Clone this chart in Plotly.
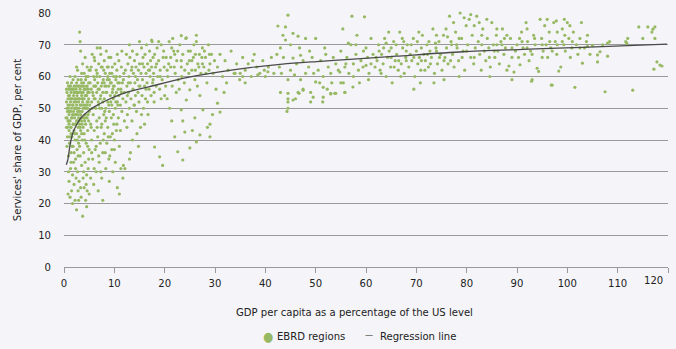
import plotly.graph_objects as go

# ---- Data (x = GDP per capita % of US, y = services share %) ----
band_0_5 = [(0.4,47),(0.5,52),(0.5,44),(0.6,55),(0.6,38),(0.7,49),(0.7,41),(0.8,53),(0.8,46),(0.8,23),(0.9,57),(0.9,50),(0.9,35),(1.0,48),(1.0,43),(1.0,27),(1.1,54),(1.1,51),(1.1,39),(1.2,56),(1.2,46),(1.2,22),(1.3,52),(1.3,49),(1.3,31),(1.4,55),(1.4,44),(1.4,36),(1.5,58),(1.5,50),(1.5,47),(1.5,24),(1.6,53),(1.6,41),(1.7,56),(1.7,48),(1.7,29),(1.8,51),(1.8,45),(1.8,38),(1.9,54),(1.9,49),(1.9,33),(2.0,57),(2.0,52),(2.0,43),(2.0,26),(2.1,55),(2.1,47),(2.2,60),(2.2,50),(2.2,40),(2.2,21),(2.3,53),(2.3,45),(2.3,34),(2.4,56),(2.4,48),(2.4,28),(2.5,58),(2.5,51),(2.5,42),(2.5,18),(2.6,54),(2.6,46),(2.6,37),(2.7,62),(2.7,49),(2.7,30),(2.8,55),(2.8,44),(2.8,24),(2.9,52),(2.9,47),(2.9,39),(3.0,57),(3.0,50),(3.0,41),(3.0,27),(3.1,74),(3.1,53),(3.1,45),(3.2,71),(3.2,56),(3.2,35),(3.3,68),(3.3,48),(3.3,43),(3.4,59),(3.4,51),(3.4,22),(3.5,54),(3.5,46),(3.5,32),(3.6,57),(3.6,49),(3.6,40),(3.7,64),(3.7,52),(3.7,16),(3.8,55),(3.8,44),(3.8,28),(3.9,58),(3.9,47),(3.9,36),(4.0,61),(4.0,53),(4.0,42),(4.0,25),(4.1,56),(4.1,50),(4.2,66),(4.2,48),(4.2,33),(4.3,59),(4.3,45),(4.3,21),(4.4,54),(4.4,39),(4.5,57),(4.5,51),(4.5,29),(4.6,63),(4.6,47),(4.6,24),(4.7,55),(4.7,43),(4.8,60),(4.8,52),(4.8,31),(4.9,58),(4.9,46),(5.0,62),(5.0,49),(5.0,37),(5.0,23),
    (0.6,50),(0.9,46),(1.2,53),(1.6,47),(1.9,56),(2.3,50),(2.6,57),(3.0,46),(3.4,55),(3.8,50),(4.2,54),(4.6,52),(1.1,57),(2.1,53),(2.9,55),(3.6,53),(4.4,50),(0.7,58),(1.4,42),(2.4,45),(3.2,44),(4.0,47),(4.8,56),(1.0,56),(1.8,59),(2.8,59),(3.9,57),
    (0.5,56),(0.6,47),(0.8,51),(0.9,54),(1.0,45),(1.1,49),(1.3,57),(1.3,44),(1.5,53),(1.6,56),(1.7,51),(1.8,48),(1.9,45),(2.0,55),(2.1,50),(2.2,57),(2.3,48),(2.4,52),(2.5,55),(2.5,46),(2.6,50),(2.7,53),(2.8,48),(2.9,57),(3.0,53),(3.1,49),(3.2,51),(3.3,57),(3.4,47),(3.5,58),(3.6,45),(3.7,55),(3.8,53),(3.9,51),(4.0,56),(4.1,46),(4.2,51),(4.3,56),(4.4,47),(4.5,54),(4.6,57),(4.7,50),(4.8,48),(4.9,53),(5.0,55),(0.7,44),(1.2,41),(1.6,38),(2.1,42),(2.6,40),(3.1,38),(3.5,42),(4.1,40),(4.7,38),(0.9,30),(1.4,33),(2.3,31),(2.8,35),(3.3,25),(3.9,30),(4.4,26),(4.9,34),(1.7,20),(2.9,21),(4.5,19),(2.0,36),(1.2,60),(2.5,63),(3.5,61),(4.4,60)]

band_5_12 = [(5.2,58),(5.3,45),(5.3,28),(5.4,63),(5.5,52),(5.5,40),(5.6,67),(5.7,55),(5.7,34),(5.8,48),(5.9,60),(5.9,26),(6.0,53),(6.0,43),(6.1,65),(6.2,57),(6.2,37),(6.3,50),(6.4,62),(6.4,30),(6.5,55),(6.5,46),(6.6,69),(6.7,58),(6.7,41),(6.8,52),(6.8,24),(6.9,64),(7.0,56),(7.0,47),(7.0,33),(7.1,60),(7.2,53),(7.2,39),(7.3,67),(7.4,57),(7.4,44),(7.5,50),(7.5,28),(7.6,63),(7.7,55),(7.7,36),(7.7,21),(7.8,59),(7.9,48),(8.0,65),(8.0,53),(8.0,42),(8.1,57),(8.2,61),(8.2,46),(8.3,50),(8.3,31),(8.4,68),(8.5,55),(8.5,39),(8.6,59),(8.7,52),(8.7,44),(8.8,63),(8.9,57),(8.9,34),(9.0,49),(9.0,27),(9.1,61),(9.2,54),(9.2,41),(9.3,66),(9.4,58),(9.4,47),(9.5,51),(9.5,37),(9.6,63),(9.7,56),(9.7,30),(9.8,53),(9.9,60),(9.9,45),(10.0,57),(10.0,40),(10.1,64),(10.2,50),(10.2,33),(10.3,59),(10.4,55),(10.4,43),(10.5,62),(10.6,52),(10.6,25),(10.7,58),(10.8,47),(10.9,65),(10.9,54),(11.0,38),(11.0,23),(11.1,60),(11.2,51),(11.3,56),(11.3,31),(11.4,63),(11.5,49),(11.6,58),(11.7,53),(11.8,32),(11.9,61),(12.0,55),(12.0,46),
    (5.4,56),(6.1,59),(6.6,61),(7.3,54),(7.9,62),(8.4,57),(9.0,59),(9.6,55),(5.8,54),(6.9,51),(7.6,58),(8.7,60),(10.3,52),(5.1,51),(6.3,57),(8.1,49),(9.3,52),(10.8,56),
    (5.2,62),(5.6,50),(5.9,57),(6.2,53),(6.5,60),(6.8,56),(7.1,50),(7.4,63),(7.7,52),(8.0,58),(8.3,55),(8.6,63),(8.9,51),(9.2,58),(9.5,61),(9.8,57),(10.1,54),(10.4,60),(10.7,51),(11.0,58),(11.4,55),(11.8,59),(5.5,36),(6.0,31),(6.4,38),(6.9,35),(7.3,30),(7.8,40),(8.2,36),(8.8,41),(9.1,35),(9.6,42),(10.0,37),(10.5,45),(11.2,43),(5.4,44),(6.6,44),(7.5,45),(8.4,47),(9.8,48),(6.0,66),(7.2,69),(8.9,66),(10.6,67),(11.5,68)]

band_12_20 = [(12.2,62),(12.3,52),(12.4,67),(12.5,57),(12.6,48),(12.7,64),(12.8,55),(12.9,60),(13.0,50),(13.0,34),(13.1,66),(13.2,58),(13.3,53),(13.4,62),(13.5,46),(13.6,68),(13.7,56),(13.8,61),(13.9,51),(14.0,65),(14.1,58),(14.2,54),(14.3,63),(14.4,49),(14.5,67),(14.6,59),(14.7,55),(14.8,62),(14.9,52),(15.0,64),(15.1,57),(15.2,44),(15.3,61),(15.4,69),(15.5,54),(15.6,59),(15.7,66),(15.8,50),(15.9,63),(16.0,57),(16.1,67),(16.2,53),(16.3,61),(16.4,70),(16.5,58),(16.6,64),(16.7,48),(16.8,62),(16.9,56),(17.0,68),(17.1,60),(17.2,65),(17.3,54),(17.4,63),(17.5,71),(17.6,58),(17.7,66),(17.8,61),(17.9,52),(18.0,67),(18.2,63),(18.3,57),(18.5,69),(18.6,60),(18.8,65),(19.0,56),(19.1,62),(19.3,70),(19.5,59),(19.7,66),(19.9,63),(20.0,54),(12.5,44),(13.6,40),(14.8,38),(12.1,31),(13.2,36),(11.7,28),(17.4,71.5),
    (12.8,58),(13.5,63),(14.2,60),(14.9,57),(15.6,64),(16.3,56),(17.0,62),(17.7,59),(18.4,64),(19.1,60),(19.8,68),(13.0,70),(15.0,71),(18.8,71),(12.6,54),(14.0,51),(15.4,48),(16.6,52),(17.9,55),(19.3,53),(14.5,42),(16.0,45)]

band_20_30 = [(20.3,66),(20.6,60),(20.9,71),(21.2,63),(21.5,57),(21.8,68),(22.1,61),(22.4,65),(22.7,59),(23.0,70),(23.3,63),(23.6,67),(23.9,58),(24.2,72),(24.5,64),(24.8,61),(25.1,68),(25.4,62),(25.7,66),(26.0,59),(26.3,71),(26.6,64),(26.9,67),(27.2,61),(27.5,69),(27.8,63),(28.1,66),(28.4,58),(28.7,70),(29.0,64),(29.3,67),(29.6,61),(29.9,65),(20.8,64),(22.0,67),(23.4,60),(24.9,65),(26.1,62),(27.4,66),(28.8,62),(21.4,69),(25.8,70),(27.9,68),(22.9,56),(21.6,72),(23.3,72.9),(24.3,72.2),(26.3,73),
    (20.5,62),(21.2,66),(21.9,63),(22.6,68),(23.3,65),(24.0,62),(24.7,68),(25.4,65),(26.1,67),(26.8,63),(27.5,64),(28.2,61),(28.9,67),(20.2,57),(22.3,55),(26.5,57),
    (21.4,46),(23.6,46),(24.0,42.5),(25.5,43),(27.0,41.6),(29.0,41),(18.0,37.8),(19.0,34.7),(22.6,36.3),(23.6,33.7),(25.0,37.5),(26.3,39.4),(19.6,32),(24.3,52.6),(23.3,49.5),(30.5,51.6),(31.0,48.8),(29.5,48),(27.6,49.5),(27.0,54),(25.0,55.8),(29.0,45),(21.0,50),(28.5,44),(26.0,47),(22.0,41),(20.5,53)]

band_30_50 = [(30.5,63),(31.0,67),(31.5,60),(32.0,65),(32.6,62),(33.2,68),(33.8,61),(34.3,64),(34.9,59),(35.5,66),(36.0,62),(36.6,64),(37.2,60),(37.8,67),(38.3,63),(38.9,61),(39.5,65),(40.0,60),(40.6,63),(41.2,66),(41.7,61),(32.3,58),(35.0,61),(37.5,65),(39.8,62),(30.2,56),(31.8,55),
    (42.5,75.9),(44.0,75.6),(43.5,73),(44.0,71.5),(43.0,69),(45.0,70),(45.5,73.6),(44.5,79.3),(46.5,72.7),(48.0,72),(50.0,72),(47.0,66.7),(45.5,65.8),(47.5,65),(43.0,55),(44.5,53),(44.5,50),(46.0,53),(47.5,55.7),(46.7,54.7),(49.0,55),(49.5,53.5),(44.5,54.7),(46.5,55),(47.5,56),(44.3,49),(44.5,52),(45.5,52.6),(49.0,52),(50.0,58.3),(35.5,60),(34.0,61),(36.0,58),(44.5,59),(47.0,59),(48.0,61),(42.8,63),(43.6,66),(45.0,62),(46.2,64),(48.6,63),(49.3,66),(42.3,67),(46.8,69),(48.8,68),(43.2,61),(45.8,60.5),(49.6,61),(38.5,60.5),(40.5,61.5)]

band_50_62 = [(50.5,62),(51.0,65),(51.5,60),(52.0,67),(52.5,63),(53.0,61),(53.5,66),(54.0,64),(54.5,62),(55.0,68),(55.4,75),(55.8,63),(56.2,66),(56.6,61),(57.0,70),(57.2,79),(57.5,64),(58.0,67),(58.5,62),(59.0,65),(59.4,63),(59.7,78.8),(60.0,69),(60.3,66),(60.6,61),(61.0,64),(61.4,67),(61.8,63),(50.8,58),(53.2,58),(54.8,61.4),(55.5,58),(55.8,55),(57.4,56.7),(58.7,58),(60.5,59),(53.8,54.7),(52.3,56),(56.5,70.5),(58.2,73),(61.0,72),(51.8,69),
    (51.5,56.6),(51.5,53.5),(53.0,54.7),(55.0,58),(51.4,52),(53.0,54.5),(54.0,54.7),(55.8,55),(56.0,64),(58.0,70),(60.0,63.5),(57.5,60),(59.5,68)]

band_62_80 = [(62.2,65),(62.5,70),(62.8,62),(63.1,67),(63.4,64),(63.7,72),(64.0,60),(64.3,66),(64.6,68),(64.9,63),(65.2,58),(65.5,71),(65.8,65),(66.1,67),(66.4,62),(66.7,74),(67.0,64),(67.3,69),(67.6,61),(67.9,66),(68.2,70),(68.5,63),(68.8,67),(69.1,65),(69.4,72),(69.7,60),(70.0,68),(70.3,64),(70.6,66),(70.9,62),(71.2,73),(71.5,67),(71.8,65),(72.1,70),(72.4,63),(72.7,68),(73.0,66),(73.3,75),(73.6,61),(73.9,69),(74.2,64),(74.5,71),(74.8,67),(75.1,62),(75.4,73),(75.7,66),(76.0,69),(76.3,64),(76.6,79),(76.9,71),(77.2,67),(77.5,63),(77.8,74),(78.1,69),(78.4,65),(78.7,80),(79.0,72),(79.3,68),(79.6,62),(79.9,76),
    (63.0,61),(65.0,69),(67.2,72),(69.0,70),(71.0,69),(72.8,64),(74.6,66),(76.8,65),(78.0,70),(64.5,74),(66.0,70),(68.0,65),(70.2,71),(72.2,67),(74.0,73),(75.9,75),(77.4,77),(79.1,66),(62.6,68),(66.9,60),(70.8,58),(73.5,58),(75.5,59),(78.5,60),(69.5,56),(71.7,62),(65.6,63),
    (62.0,66),(63.5,69),(65.0,66),(66.5,65),(68.0,68),(69.5,66),(71.0,65),(72.5,71),(74.0,68),(75.5,65),(77.0,70),(78.5,72),(64.0,70.5),(67.5,71),(70.5,74),(73.8,70.5),(76.2,72.5),(79.5,78.5)]

band_80_105 = [(80.2,70),(80.5,78),(80.8,66),(81.1,73),(81.4,64),(81.7,69),(82.0,79),(82.3,71),(82.6,67),(82.9,62),(83.2,75),(83.5,68),(83.8,65),(84.1,72),(84.4,69),(84.7,63),(85.0,77),(85.3,70),(85.6,66),(85.9,73),(86.2,68),(86.5,64),(86.8,71),(87.1,75),(87.4,67),(87.7,69),(88.0,62),(88.4,63.3),(88.7,72),(89.0,59),(89.4,61.4),(89.7,68),(90.0,70),(90.3,66),(90.6,63.7),(90.9,74),(91.2,69),(91.5,67),(91.8,77),(92.1,71),(92.4,65),(92.7,68),(93.0,59),(93.3,73),(93.6,70),(94.0,62.6),(94.3,61.6),(94.6,78),(94.9,72),(95.2,68),(95.5,76),(95.8,70),(96.1,66),(96.4,74),(96.7,69),(97.0,57.3),(97.3,77),(97.6,71),(97.9,67),(98.3,61.7),(98.7,63),(99.0,75),(99.3,70),(99.6,68),(100.0,77),(100.3,72),(100.6,66),(100.9,69),(101.2,74),(101.5,56.6),(101.8,70),(102.1,67),(102.5,72),(103.0,64.2),(103.4,69),(103.8,71),(104.0,69.5),(104.5,67),(105.0,69.8),
    (83.0,70),(85.5,68),(87.0,70),(89.0,69),(91.0,71),(93.0,67),(95.0,70),(97.0,68),(99.0,71),(81.5,76),(84.0,78),(86.0,75),(88.0,73),(92.0,75),(96.0,78),(98.0,74),(100.5,76),(102.8,77),(84.6,60),(92.9,58.5),(96.8,57.3),
    (80.0,68),(81.5,66),(83.0,73),(84.5,66),(86.0,70),(87.5,72),(89.0,66),(90.5,72),(92.0,69),(93.5,72),(95.0,66),(96.5,71),(98.0,70),(99.5,73),(101.0,71),(102.5,69),(104.0,73),(80.8,79.5),(82.5,77),(97.8,77.5),(99.4,78)]

band_105_122 = [(106.0,64.6),(106.0,66.8),(106.5,67.8),(107.0,70),(107.5,55.2),(108.0,70.5),(108.0,66.4),(108.4,71),(111.6,71),(111.8,70.5),(112.0,72),(113.0,55.7),(114.2,75.6),(115.0,72),(116.0,75.6),(116.8,74),(117.0,74.9),(117.4,75.6),(117.4,72),(117.8,64.6),(118.4,63.6),(118.8,63.3),(117.2,62.3)]

# Regression line
reg_x = [0.45, 0.75, 1.2, 1.75, 2.5, 3.4, 4.5, 6.1, 8.6, 12, 17, 23.6, 30.3, 36.9, 43.4, 50.2, 56.8, 66, 79.2, 92.5, 103, 119.8]
reg_y = [32.2, 33.7, 38.4, 42.2, 44.8, 47.0, 48.7, 50.5, 52.6, 54.8, 56.8, 59.4, 61.3, 62.8, 63.9, 64.7, 65.4, 66.4, 67.8, 68.6, 69.2, 70.2]

x_ticks = [0, 10, 20, 30, 40, 50, 60, 70, 80, 90, 100, 110, 120]
y_ticks = [0, 10, 20, 30, 40, 50, 60, 70, 80]

all_points = band_0_5 + band_5_12 + band_12_20 + band_20_30 + band_30_50 + band_50_62 + band_62_80 + band_80_105 + band_105_122
gdp_x = [p[0] for p in all_points]
serv_y = [p[1] for p in all_points]

FONT = "DejaVu Sans Condensed, Liberation Sans Narrow, Arial Narrow, sans-serif"
GREEN = "#97b964"
LINE = "#4a4a4a"
BG = "#f5f5f9"
TXT = "#222"
FS = 11.2

# plot area in page pixels: x 64..668, y 13..267
L, R, T, B = 64, 8, 13, 82
PW, PH = 676 - L - R, 349 - T - B

def px_x(p):
    return (p - L) / PW

def px_y(p):
    return (T + PH - p) / PH

fig = go.Figure()
fig.add_trace(go.Scatter(x=gdp_x, y=serv_y, mode="markers", name="EBRD regions", showlegend=False,
                         marker=dict(size=3.2, color=GREEN, line=dict(width=0)), cliponaxis=False))
fig.add_trace(go.Scatter(x=reg_x, y=reg_y, mode="lines", name="Regression line", showlegend=False,
                         line=dict(color=LINE, width=1.3, shape="spline", smoothing=0.8)))

annos = [
    dict(text="120", x=120, y=0, xref="x", yref="y", xanchor="right", yanchor="top",
         yshift=-5, xshift=-3, showarrow=False, font=dict(size=FS, color=TXT)),
    dict(text="GDP per capita as a percentage of the US level", x=px_x(354), y=px_y(312),
         xref="paper", yref="paper", xanchor="center", yanchor="middle",
         showarrow=False, font=dict(size=FS, color=TXT)),
    # legend
    dict(text="●", x=px_x(268), y=px_y(336), xref="paper", yref="paper", xanchor="center",
         yanchor="middle", showarrow=False, font=dict(size=13, color=GREEN)),
    dict(text="EBRD regions", x=px_x(275), y=px_y(336), xref="paper", yref="paper", xanchor="left",
         yanchor="middle", showarrow=False, font=dict(size=FS, color=TXT)),
    dict(text="—", x=px_x(369), y=px_y(335), xref="paper", yref="paper", xanchor="center",
         yanchor="middle", showarrow=False, font=dict(size=9, color=LINE)),
    dict(text="Regression line", x=px_x(378), y=px_y(336), xref="paper", yref="paper", xanchor="left",
         yanchor="middle", showarrow=False, font=dict(size=FS, color=TXT)),
]

fig.update_layout(
    width=676, height=349,
    margin=dict(l=L, r=R, t=T, b=B, autoexpand=False),
    paper_bgcolor=BG, plot_bgcolor=BG,
    font=dict(family=FONT, size=FS, color=TXT),
    showlegend=False,
    xaxis=dict(range=[0, 120], tickvals=x_ticks, automargin=False,
               ticktext=[str(v) if v != 120 else "" for v in x_ticks],
               showgrid=False, zeroline=False, showline=True, linecolor="#9a9a9a", linewidth=1.3,
               ticks="outside", ticklen=5, tickcolor="#9a9a9a", tickwidth=1,
               tickfont=dict(size=FS, color=TXT)),
    yaxis=dict(range=[0, 80], tickvals=y_ticks, showgrid=True, gridcolor="#999999", gridwidth=1.4,
               zeroline=False, showline=False, ticks="", ticklabelstandoff=12, automargin=False,
               tickfont=dict(size=FS, color=TXT),
               title=dict(text="Services' share of GDP, per cent", font=dict(size=FS), standoff=14)),
    annotations=annos,
)

fig.write_html("out.html", config={"displayModeBar": False},
               post_script="document.body.style.margin='0';document.body.style.padding='0';"
                           "document.body.style.background='%s';document.body.style.overflow='hidden';" % BG)
